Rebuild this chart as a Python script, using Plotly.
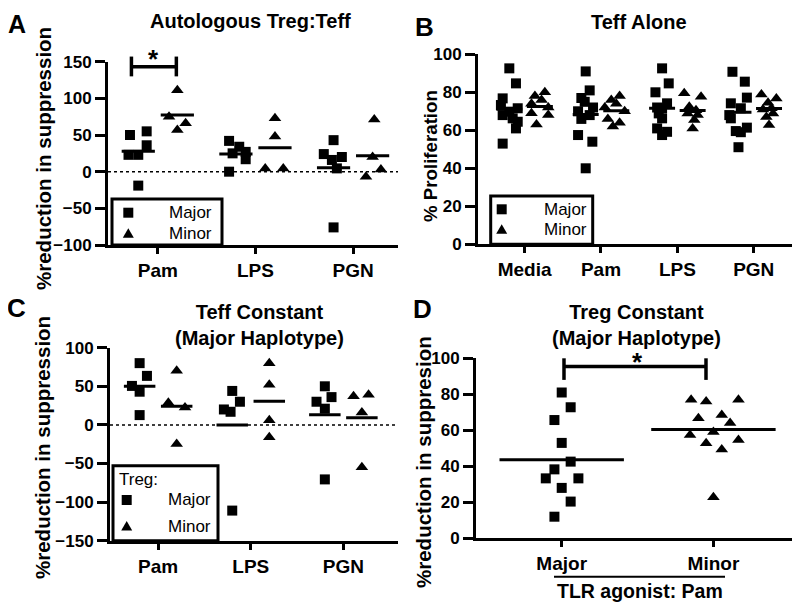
import numpy as np
import plotly.graph_objects as go

FONT = "Liberation Sans, Arial, sans-serif"
# the page body has an 8px margin, so the figure is 792x600 starting at (8, 8)
W, H = 792, 600
OX, OY = 8, 8

# ---------------- data ----------------
# Panel A: Autologous Treg:Teff (%reduction in suppression)
a_cats = ["Pam", "LPS", "PGN"]
a_major = [[50, 55, 36, 23, 23, -19], [42, 34, 27, 25, 17, 0], [43, 24, 16, 20, 4.5, -76]]
a_minor = [[111, 75, 66, 57], [73, 48, 4.5, 4.5], [71, 20, -7, 3]]
a_major_jit = [[-0.085, 0.086, 0.086, -0.1, 0, 0], [-0.07, 0.034, 0.1, -0.034, 0.1, -0.07],
               [0, -0.1, -0.017, 0.085, 0.034, 0]]
a_minor_jit = [[0, -0.085, 0.085, 0], [0, 0, -0.1, 0.085], [0.017, 0, -0.068, 0.085]]

# Panel B: Teff Alone (% Proliferation)
b_cats = ["Media", "Pam", "LPS", "PGN"]
b_major = [[92.6, 84.7, 76.8, 73.3, 71.6, 69.8, 68, 66.3, 64.5, 61, 53],
           [91, 81, 77, 75, 72, 70, 68, 66, 57.5, 54, 40],
           [92.6, 84.7, 80, 74.2, 72, 71.6, 68.9, 66.3, 61, 59.2, 57.5],
           [90.8, 85.6, 77.2, 74.2, 71.6, 68, 66.3, 61.4, 59.6, 59, 51.1]]
b_minor = [[80, 78, 76, 74, 72, 69, 68, 63],
           [78, 76, 74, 72, 70, 66, 64, 62],
           [79.5, 77.7, 72.4, 70.5, 68.9, 68, 65.4, 61],
           [78.9, 76.8, 74.5, 71.6, 71, 68.9, 67, 62.8]]
b_major_jit = [[0, 0.087, -0.087, -0.11, 0.11, 0, -0.087, 0.044, 0.11, 0.087, -0.087],
               [0, 0.052, -0.057, -0.013, 0.096, -0.1, 0.052, -0.057, -0.1, 0.087, 0],
               [0, 0.087, -0.087, 0.065, -0.065, 0, -0.044, 0, -0.065, 0.065, 0],
               [-0.079, 0.083, 0.11, -0.1, 0.031, -0.12, -0.1, 0.11, -0.035, 0.031, 0]]
b_minor_jit = [[0.065, -0.065, 0.022, -0.11, 0.11, -0.11, 0.11, -0.044],
               [0.044, -0.065, 0, -0.15, 0.11, -0.11, 0.044, -0.044],
               [-0.11, 0.11, -0.044, 0.044, -0.065, 0.065, 0.022, 0],
               [-0.1, 0.096, -0.013, 0.031, -0.079, 0.052, -0.035, 0]]

# Panel C: Teff Constant (Major Haplotype)
c_cats = ["Pam", "LPS", "PGN"]
c_major = [[80, 63.5, 50.5, 43, 12.7], [44, 30, 20, 17, -111], [50, 36, 30, 21, -70.6]]
c_minor = [[70, 28.7, 22.6, -24.8], [80, 52, 6, -16], [37, 39, 16, -55]]
c_major_jit = [[0, 0.079, -0.083, 0, 0], [0, 0.083, -0.09, -0.018, 0], [0, 0.072, -0.09, 0, 0]]
c_minor_jit = [[0, -0.09, 0.09, 0], [0, 0, 0, 0], [-0.09, 0.072, 0, 0]]

# Panel D: Treg Constant (Major Haplotype), TLR agonist: Pam
d_cats = ["Major", "Minor"]
d_major = [81, 72.8, 65.7, 53, 42.6, 38.3, 33.3, 33.3, 28, 20.4, 12]
d_minor = [77, 76, 77, 66.7, 68.5, 64, 57.4, 59, 52.8, 49.4, 54.6, 22.8]
d_major_jit = [0, 0.059, -0.048, 0, 0.059, -0.048, -0.105, 0.11, 0, 0.059, -0.048]
d_minor_jit = [-0.147, -0.048, 0.165, -0.099, 0.055, 0.11, -0.154, 0, -0.048, 0.055, 0.165, 0]

legend_labels = ["Major", "Minor"]

# ---------------- helpers ----------------
fig = go.Figure()


def fx(x):
    return (x - OX) / W


def fy(y):
    return 1 - (y - OY) / H


SQ = dict(symbol="square", size=10, color="black", line=dict(width=0))
TR = dict(symbol="triangle-up", size=11, color="black", line=dict(width=0))


def add_points(ax, cat_i, vals, jit, offset, marker, name, half=0.17):
    xs = [cat_i + offset + j for j in jit]
    fig.add_trace(go.Scatter(x=xs, y=vals, mode="markers", marker=marker, name=name,
                             showlegend=False, xaxis="x" + ax, yaxis="y" + ax,
                             cliponaxis=False, hoverinfo="y"))
    m = float(np.mean(vals))
    fig.add_trace(go.Scatter(x=[cat_i + offset - half, cat_i + offset + half], y=[m, m],
                             mode="lines", line=dict(color="black", width=3),
                             showlegend=False, xaxis="x" + ax, yaxis="y" + ax, hoverinfo="skip"))


for i in range(len(a_cats)):
    add_points("", i, a_major[i], a_major_jit[i], -0.2, SQ, "Major")
    add_points("", i, a_minor[i], a_minor_jit[i], 0.2, TR, "Minor")
for i in range(len(b_cats)):
    add_points("2", i, b_major[i], b_major_jit[i], -0.2, SQ, "Major")
    add_points("2", i, b_minor[i], b_minor_jit[i], 0.2, TR, "Minor")
for i in range(len(c_cats)):
    add_points("3", i, c_major[i], c_major_jit[i], -0.2, SQ, "Major")
    add_points("3", i, c_minor[i], c_minor_jit[i], 0.2, TR, "Minor")
add_points("4", 0, d_major, d_major_jit, 0, SQ, "Major", half=0.41)
add_points("4", 1, d_minor, d_minor_jit, 0, TR, "Minor", half=0.41)

XTICKF = dict(family=FONT, size=19, color="black", weight="bold")
YTICKF = dict(family=FONT, size=17, color="black", weight="bold")


def xaxis(left, right, rng, cats, anchor):
    return dict(domain=[fx(left), fx(right)], range=rng, tickvals=list(range(len(cats))),
                ticktext=cats, showline=True, linewidth=3, linecolor="black", ticks="outside",
                ticklen=6, tickwidth=3, tickcolor="black", showgrid=False, zeroline=False,
                tickfont=XTICKF, anchor=anchor, fixedrange=True)


def yaxis(top, bottom, rng, dtick, anchor):
    return dict(domain=[fy(bottom), fy(top)], range=rng, dtick=dtick, tick0=0, showline=True,
                linewidth=3, linecolor="black", ticks="outside", ticklen=10, tickwidth=3,
                tickcolor="black", showgrid=False, zeroline=False, tickfont=YTICKF,
                anchor=anchor, fixedrange=True)


fig.update_layout(
    width=W, height=H, margin=dict(l=0, r=0, t=0, b=0, autoexpand=False),
    paper_bgcolor="white", plot_bgcolor="white", showlegend=False,
    font=dict(family=FONT, color="black"),
    xaxis=xaxis(108, 398, [-0.51, 2.46], a_cats, "y"),
    yaxis=yaxis(61.7, 245, [-100, 150], 50, "x"),
    xaxis2=xaxis(478, 795, [-0.61, 3.54], b_cats, "y2"),
    yaxis2=yaxis(54.3, 244.3, [0, 100], 20, "x2"),
    xaxis3=xaxis(110, 398, [-0.52, 2.59], c_cats, "y3"),
    yaxis3=yaxis(347.7, 540.7, [-150, 100], 50, "x3"),
    xaxis4=xaxis(476, 791.7, [-0.565, 1.516], d_cats, "y4"),
    yaxis4=yaxis(358.3, 538.3, [0, 100], 20, "x4"),
)

# dotted zero lines
for ax in ["", "3"]:
    fig.add_shape(type="line", xref="x%s domain" % ax, yref="y" + ax, x0=0, x1=1, y0=0, y1=0,
                  line=dict(color="black", width=1.5, dash="dot"), layer="below")


# significance brackets (x in data units, y in data converted to domain fraction)
def bracket(ax, yr, x0, x1, y, lo, hi):
    f = lambda v: (v - yr[0]) / (yr[1] - yr[0])
    ln = dict(color="black", width=3.5)
    fig.add_shape(type="line", xref="x" + ax, yref="y%s domain" % ax, x0=x0, x1=x1,
                  y0=f(y), y1=f(y), line=ln)
    for xx in (x0, x1):
        fig.add_shape(type="line", xref="x" + ax, yref="y%s domain" % ax, x0=xx, x1=xx,
                      y0=f(lo), y1=f(hi), line=ln)


bracket("", [-100, 150], -0.27, 0.19, 143, 130, 157)
bracket("4", [0, 100], 0.015, 0.951, 95.4, 88, 100)


def ann(text, x, y, size, bold=True, angle=0, xanchor="center", yanchor="middle"):
    fig.add_annotation(text=text, x=fx(x), y=fy(y), xref="paper", yref="paper",
                       showarrow=False, textangle=angle, xanchor=xanchor, yanchor=yanchor,
                       font=dict(family=FONT, size=size, color="black",
                                 weight="bold" if bold else "normal"))


# boxed legends (key symbols drawn as small shapes, labels as text)
def legend_box(x0, x1, y0, y1, sym_x, text_x, rows, title=None):
    fig.add_shape(type="rect", xref="paper", yref="paper", x0=fx(x0), x1=fx(x1),
                  y0=fy(y1), y1=fy(y0), line=dict(color="black", width=3),
                  fillcolor="white", layer="above")
    if title:
        ann(title[0], text_x - (text_x - sym_x) - 10, title[1], 17, bold=False, xanchor="left")
    for kind, yc, label in rows:
        if kind == "square":
            fig.add_shape(type="rect", xref="paper", yref="paper", x0=fx(sym_x - 5),
                          x1=fx(sym_x + 5), y0=fy(yc + 5), y1=fy(yc - 5),
                          line=dict(width=0), fillcolor="black", layer="above")
        else:
            path = "M %f,%f L %f,%f L %f,%f Z" % (fx(sym_x - 5.5), fy(yc + 4.5),
                                                  fx(sym_x + 5.5), fy(yc + 4.5),
                                                  fx(sym_x), fy(yc - 5))
            fig.add_shape(type="path", xref="paper", yref="paper", path=path,
                          line=dict(width=0), fillcolor="black", layer="above")
        ann(label, text_x, yc, 17, bold=False, xanchor="left")


legend_box(112, 222, 199, 245, 128.3, 167,
           [("square", 212.7, legend_labels[0]), ("triangle", 233.3, legend_labels[1])])
legend_box(490.7, 592.7, 196, 244.3, 501.7, 542,
           [("square", 209.3, legend_labels[0]), ("triangle", 229.3, legend_labels[1])])
legend_box(113, 218, 465.7, 540.7, 126.7, 166,
           [("square", 500, legend_labels[0]), ("triangle", 526, legend_labels[1])],
           title=("Treg:", 479.5))

# panel letters
ann("A", 17, 8, 25, yanchor="top")
ann("B", 424, 27, 26)
ann("C", 16, 308, 26)
ann("D", 422, 309, 26)
# titles
ann("Autologous Treg:Teff", 250, 21, 20)
ann("Teff Alone", 639, 22, 20)
ann("Teff Constant<br>(Major Haplotype)", 259, 325, 20)
ann("Treg Constant<br>(Major Haplotype)", 636, 325, 20)
# y titles
ann("%reduction in suppression", 43, 159, 20.5, angle=-90)
ann("% Proliferation", 430, 156, 18.7, angle=-90)
ann("%reduction in suppression", 43, 448, 20.5, angle=-90)
ann("%reduction in suppresion", 423, 462, 20.5, angle=-90)
# stars
ann("*", 153, 59, 26)
ann("*", 637, 362, 26)
# D footer
fig.add_shape(type="line", xref="paper", yref="paper", x0=fx(554), x1=fx(725),
              y0=fy(576.7), y1=fy(576.7), line=dict(color="black", width=2))
ann("TLR agonist: Pam", 640, 591, 19.5)

fig.write_html("out.html")
